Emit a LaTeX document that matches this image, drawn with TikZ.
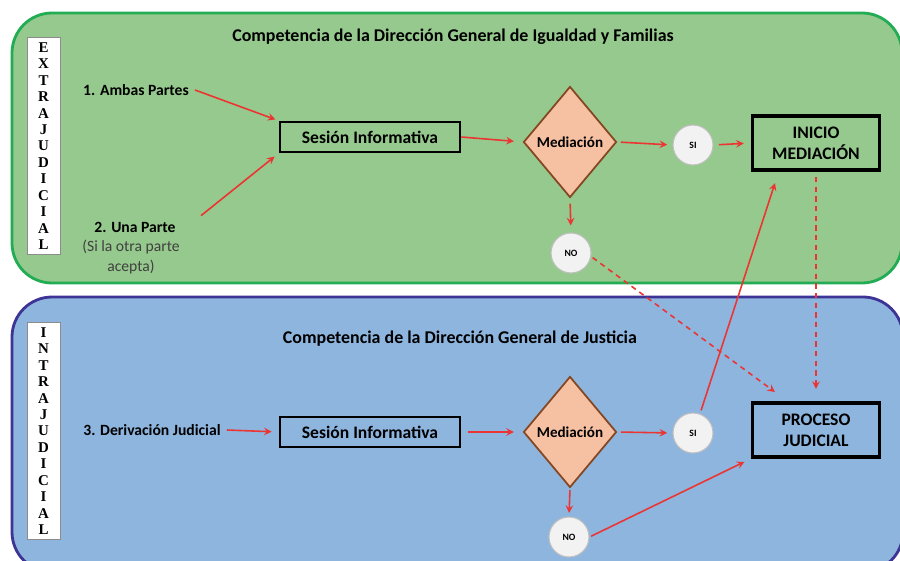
\documentclass[tikz,border=0pt]{standalone}
\usepackage{fontspec}
\setmainfont{Carlito}
\newfontfamily\letrafont{Liberation Serif}
\usetikzlibrary{shapes.geometric}

\definecolor{verdefondo}{RGB}{150,201,141}
\definecolor{verdeborde}{RGB}{34,172,84}
\definecolor{azulfondo}{RGB}{141,181,222}
\definecolor{azulborde}{RGB}{62,52,150}
\definecolor{rombo}{RGB}{246,192,162}
\definecolor{romboborde}{RGB}{133,70,34}
\definecolor{flecha}{RGB}{236,52,50}

\begin{document}
\begin{tikzpicture}[x=0.02cm,y=-0.02cm,>=stealth,
  panel/.style={rounded corners=0.8cm,line width=1.6pt},
  vertical/.style={draw=black!45,fill=white,line width=0.5pt,minimum width=0.66cm,
    minimum height=4.34cm,inner sep=0pt,align=center,
    font=\letrafont\bfseries\fontsize{8.5}{9.35}\selectfont},
  titulo/.style={font=\bfseries\fontsize{10.2}{12}\selectfont},
  etiqueta/.style={font=\bfseries\fontsize{8.9}{11}\selectfont},
  sesion/.style={draw,line width=1.5pt,minimum width=3.6cm,minimum height=0.6cm,
    font=\bfseries\fontsize{10}{12}\selectfont},
  decision/.style={diamond,draw=romboborde,fill=rombo,line width=1pt,minimum width=1.86cm,
    minimum height=2.22cm,inner sep=0pt,font=\bfseries\fontsize{8.6}{10}\selectfont},
  respuesta/.style={circle,draw=black!25,fill=black!5,line width=0.6pt,minimum size=0.8cm,
    inner sep=0pt,font=\bfseries\fontsize{5.5}{6}\selectfont},
  final/.style={draw,line width=2pt,minimum width=2.54cm,minimum height=1.08cm,align=center,
    font=\bfseries\fontsize{10}{12}\selectfont},
  flujo/.style={->,flecha,line width=0.9pt},
  salto/.style={flujo,dash pattern=on 3pt off 2.5pt}]
\useasboundingbox (0,0) rectangle (900,561);
% los dos paneles
\begin{scope}
\clip (0,0) rectangle (900,561);
\draw[panel,draw=verdeborde,fill=verdefondo] (12,13) rectangle (902,283);
\draw[panel,draw=azulborde,fill=azulfondo] (12,297) rectangle (903,572);
\end{scope}

% extrajudicial
\node[vertical] (extra) at (43.5,146) {E\\X\\T\\R\\A\\J\\U\\D\\I\\C\\I\\A\\L};
\node[titulo] (tit1) at (453,37) {Competencia de la Dirección General de Igualdad y Familias};
\node[etiqueta] (ambas) at (136,90) {1. Ambas Partes};
\node[etiqueta] (una) at (135,227) {2. Una Parte};
\node[font=\fontsize{8.9}{11.3}\selectfont,text=black!75,align=center] (acepta) at (131,257) {(Si la otra parte\\acepta)};
\node[sesion] (ses1) at (370,137) {Sesión Informativa};
\node[decision] (med1) at (570,142) {Mediación};
\node[respuesta] (si1) at (693,145) {SI};
\node[final] (ini) at (816,143) {INICIO\\MEDIACIÓN};
\node[respuesta] (no1) at (571,253) {NO};

% intrajudicial
\node[vertical] (intra) at (43.5,431) {I\\N\\T\\R\\A\\J\\U\\D\\I\\C\\I\\A\\L};
\node[titulo] (tit2) at (460,339) {Competencia de la Dirección General de Justicia};
\node[etiqueta] (deriv) at (152,430) {3. Derivación Judicial};
\node[sesion] (ses2) at (370,432) {Sesión Informativa};
\node[decision] (med2) at (570,432) {Mediación};
\node[respuesta] (si2) at (693,433) {SI};
\node[final] (proc) at (816,430) {PROCESO\\JUDICIAL};
\node[respuesta] (no2) at (569,537) {NO};

\coordinate (llegada1) at (775,392);
\coordinate (llegada2) at (775,183);

% flechas
\draw[flujo,shorten >=2pt] (ambas.east) -- (ses1.north west);
\draw[flujo,shorten >=3pt] ([xshift=11pt]una.north east) -- (ses1.south west);
\draw[flujo,shorten >=5pt] (ses1.east) -- (med1.west);
\draw[flujo,shorten <=2pt,shorten >=3pt] (med1.east) -- (si1.west);
\draw[flujo,shorten <=3pt,shorten >=4pt] (si1.east) -- (ini.west);
\draw[flujo,shorten <=3pt,shorten >=4pt] (med1.south) -- (no1.north);
\draw[salto,shorten <=1pt] (no1.-10) -- (llegada1);
\draw[salto,shorten <=3pt,shorten >=7pt] (ini.south) -- (proc.north);

\draw[flujo,shorten >=4pt] (deriv.east) -- (ses2.west);
\draw[flujo,shorten <=4pt,shorten >=5pt] (ses2.east) -- (med2.west);
\draw[flujo,shorten <=2pt,shorten >=3pt] (med2.east) -- (si2.west);
\draw[flujo,shorten <=2pt] (si2.70) -- (llegada2);
\draw[flujo,shorten <=1pt,shorten >=2pt] (med2.south) -- (no2.north);
\draw[flujo,shorten <=1pt,shorten >=4pt] (no2.east) -- (proc.south west);
\end{tikzpicture}
\end{document}
